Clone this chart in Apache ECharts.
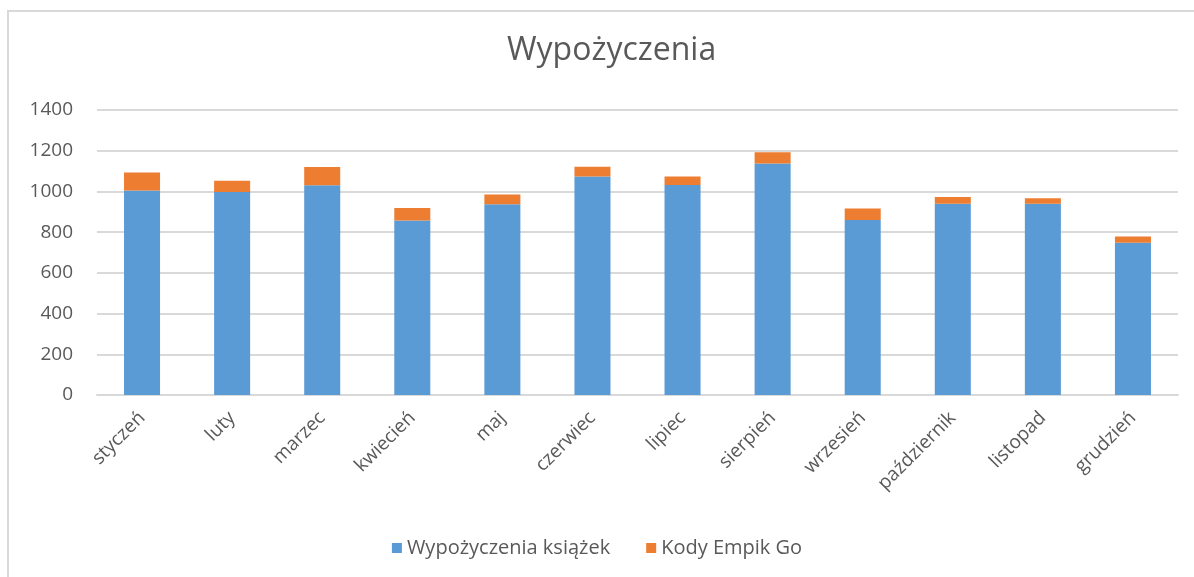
<!DOCTYPE html>
<html>
<head>
<meta charset="utf-8">
<script src="https://cdn.jsdelivr.net/npm/echarts@6/dist/echarts.min.js"></script>
<style>
  html, body { margin: 0; padding: 0; background: #fff; }
  #chart { width: 1194px; height: 577px; }
</style>
</head>
<body>
<div id="chart"></div>
<script>
var months = ['styczeń', 'luty', 'marzec', 'kwiecień', 'maj', 'czerwiec', 'lipiec', 'sierpień', 'wrzesień', 'październik', 'listopad', 'grudzień'];
var ksiazki = [1005, 997, 1030, 857, 937, 1073, 1032, 1137, 860, 939, 939, 748];
var empik = [88, 55, 90, 62, 48, 48, 41, 56, 56, 34, 28, 31];

var chart = echarts.init(document.getElementById('chart'));
var txt = '#595959';
var font = '"Open Sans", "Liberation Sans", sans-serif';

var option = {
    animation: false,
    textStyle: { fontFamily: font },
    title: {
        text: 'Wypożyczenia',
        left: 502,
        top: 30,
        textStyle: { fontSize: 32, fontWeight: 'normal', color: txt, fontFamily: font }
    },
    legend: {
        bottom: 14,
        left: 'center',
        itemWidth: 10,
        itemHeight: 10,
        itemGap: 36,
        icon: 'rect',
        textStyle: { fontSize: 20, color: txt, fontFamily: font }
    },
    grid: { left: 97, right: 16, top: 110, bottom: 182 },
    xAxis: {
        type: 'category',
        data: months,
        axisLine: { lineStyle: { color: '#d9d9d9', width: 2 } },
        axisTick: { show: false },
        axisLabel: { rotate: 45, fontSize: 19, color: txt, margin: 20, interval: 0 }
    },
    yAxis: {
        type: 'value',
        min: 0,
        max: 1400,
        interval: 200,
        axisLine: { show: false },
        axisTick: { show: false },
        axisLabel: { fontSize: 19, color: txt, margin: 24, formatter: function (v) { return String(v); } },
        splitLine: { lineStyle: { color: '#d9d9d9', width: 2 } }
    },
    series: [{
        name: 'Wypożyczenia książek',
        type: 'bar',
        stack: 'a',
        barWidth: '40%',
        data: ksiazki,
        itemStyle: { color: '#5B9BD5' }
    }, {
        name: 'Kody Empik Go',
        type: 'bar',
        stack: 'a',
        data: empik,
        itemStyle: { color: '#ED7D31' }
    }],
    graphic: [{
        type: 'polyline',
        shape: { points: [[8, 577], [8, 11], [1194, 11]] },
        style: { stroke: '#d9d9d9', lineWidth: 2, fill: null }
    }]
};
chart.setOption(option);
</script>
</body>
</html>
